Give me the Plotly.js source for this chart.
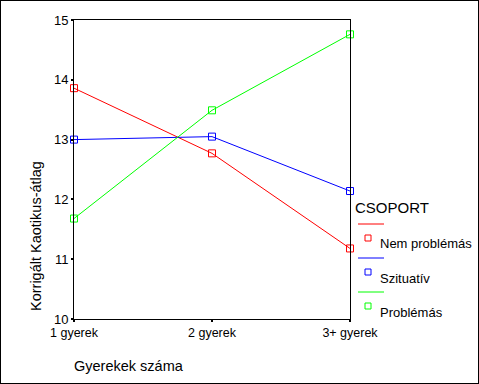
<!DOCTYPE html>
<html>
<head>
<meta charset="utf-8">
<script src="https://cdn.plot.ly/plotly-3.0.1.min.js"></script>
<style>
html,body{margin:0;padding:0;background:#fff;}
#chart{width:477px;height:382px;border:1px solid #000;}
</style>
</head>
<body>
<div id="chart"></div>
<script>
const categories = ["1 gyerek", "2 gyerek", "3+ gyerek"];
const seriesNames = ["Nem problémás", "Szituatív", "Problémás"];
const nemProblemas = [13.86, 12.77, 11.18];
const szituativ = [13.00, 13.05, 12.14];
const problemas = [11.68, 13.49, 14.76];
const yTicks = [10, 11, 12, 13, 14, 15];
const colors = ["#ff0000", "#0000ff", "#00ff00"];
const allSeries = [nemProblemas, szituativ, problemas];

// page pixel -> paper coordinate helpers (plot area: x 74..350, y 20..319 in page px)
const PX0 = 74, PX1 = 350, PY0 = 319, PY1 = 20;
const px = x => (x - PX0) / (PX1 - PX0);
const py = y => (PY0 - y) / (PY0 - PY1);

const traces = allSeries.map((vals, i) => ({
  type: "scatter",
  mode: "lines+markers",
  x: categories.map((c, j) => j),
  y: vals,
  name: seriesNames[i],
  line: {color: colors[i], width: 1},
  marker: {symbol: "square-open", size: 7, color: colors[i], line: {width: 1, color: colors[i]}},
  cliponaxis: false,
  showlegend: false
}));

const font = "Liberation Sans, Arial, sans-serif";
const annotations = [
  {text: "Korrigált Kaotikus-átlag", x: px(36), y: py(236), xref: "paper", yref: "paper",
   textangle: -90, showarrow: false, xanchor: "center", yanchor: "middle", font: {size: 14.5, color: "#000"}},
  {text: "Gyerekek száma", x: px(129), y: py(366), xref: "paper", yref: "paper",
   showarrow: false, xanchor: "center", yanchor: "middle", font: {size: 14.5, color: "#000"}},
  {text: "CSOPORT", x: px(353), y: py(207), xref: "paper", yref: "paper",
   showarrow: false, xanchor: "left", yanchor: "middle", font: {size: 15, color: "#000"}}
];
const shapes = [];
const legY = [224, 258, 292];
seriesNames.forEach((n, i) => {
  const ly = legY[i];
  shapes.push({type: "line", xref: "paper", yref: "paper", x0: px(358), x1: px(384), y0: py(ly), y1: py(ly),
    line: {color: colors[i], width: 1}});
  shapes.push({type: "rect", xref: "paper", yref: "paper", x0: px(365), x1: px(371), y0: py(ly + 11), y1: py(ly + 17),
    line: {color: colors[i], width: 1}, fillcolor: "rgba(0,0,0,0)"});
  annotations.push({text: n, x: px(378), y: py(ly + 20), xref: "paper", yref: "paper",
    showarrow: false, xanchor: "left", yanchor: "middle", font: {size: 13, color: "#000"}});
});

const layout = {
  width: 477, height: 382,
  margin: {l: 73, r: 128, t: 19, b: 64, pad: 0},
  paper_bgcolor: "#fff", plot_bgcolor: "#fff",
  font: {family: font, color: "#000", size: 13},
  showlegend: false,
  xaxis: {
    range: [0, 2], tickvals: [0, 1, 2], ticktext: categories,
    showgrid: false, zeroline: false, showline: true, mirror: true, linecolor: "#000", linewidth: 1,
    ticks: "outside", ticklen: 2, tickwidth: 2, tickcolor: "#000",
    tickfont: {size: 12.5, family: font, color: "#000"}, fixedrange: true
  },
  yaxis: {
    range: [10, 15], tickvals: yTicks, ticktext: yTicks.map(String),
    showgrid: false, zeroline: false, showline: true, mirror: true, linecolor: "#000", linewidth: 1,
    ticks: "outside", ticklen: 2, tickwidth: 2, tickcolor: "#000",
    tickfont: {size: 13, family: font, color: "#000"}, fixedrange: true
  },
  annotations: annotations,
  shapes: shapes
};

Plotly.newPlot("chart", traces, layout, {displayModeBar: false, staticPlot: true});
</script>
</body>
</html>
